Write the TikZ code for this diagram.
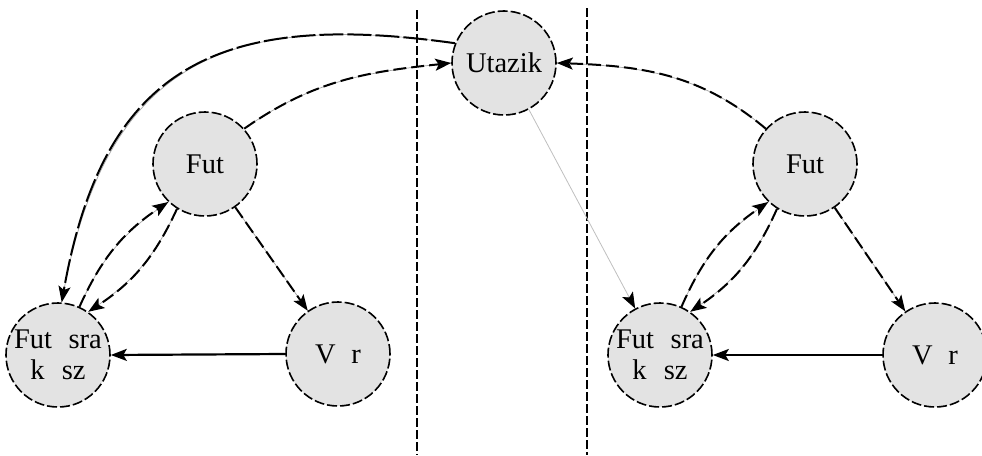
\documentclass[tikz,border=0pt]{standalone}
\usepackage{fontspec}
\setmainfont{Liberation Serif}
\usetikzlibrary{arrows.meta}

\tikzset{
  state/.style={circle, minimum size=104pt, inner sep=0pt, fill=black!11,
    draw=black, line width=1.6pt, dash pattern=on 10pt off 3pt,
    font=\fontsize{28.5}{31}\selectfont, align=center},
  link/.style={draw=black, line width=2pt, dash pattern=on 13pt off 5pt,
    preaction={draw=black!35, solid, line width=0.7pt, -},
    -{Stealth[length=16pt, width=12pt, inset=3.5pt]}},
  solidlink/.style={draw=black, line width=2.2pt,
    -{Stealth[length=16pt, width=12pt, inset=3.5pt]}},
  faintlink/.style={draw=black!25, line width=0.8pt,
    -{Stealth[length=16pt, width=12pt, inset=3.5pt, color=black]}},
  divider/.style={draw=black, dash pattern=on 9pt off 3pt},
}

\begin{document}
\begin{tikzpicture}[x=1pt, y=-1pt]
  \useasboundingbox (0,0) rectangle (982,455);

  % separating lines
  \coordinate (d1t) at (417,10);  \coordinate (d1b) at (417,455);
  \coordinate (d2t) at (587,8);   \coordinate (d2b) at (587,455);
  \draw[divider, line width=1.5pt] (d1t) -- (d1b);
  \draw[divider, line width=2.3pt] (d2t) -- (d2b);

  % states
  \node[state] (ut)  at (504,63)  {Utazik};
  \node[state] (fL)  at (205,164) {Fut};
  \node[state] (fsL) at (58,355)  {Fut\hspace{0.58em}sra\\k\hspace{0.6em}sz};
  \node[state] (vL)  at (338,354) {V\hspace{0.55em}r};
  \node[state] (fR)  at (805,164) {Fut};
  \node[state] (fsR) at (660,355) {Fut\hspace{0.58em}sra\\k\hspace{0.6em}sz};
  \node[state] (vR)  at (935,355) {V\hspace{0.55em}r};

  % left part
  \draw[link, dash pattern=on 24pt off 4pt] (ut.158) to[out=172, in=80, looseness=1.3] (fsL.86);
  \draw[link] (fL.42) to[out=35, in=186] (ut.180);
  \draw[link] (fsL.66) to[bend left=16] (fL.226);
  \draw[link] (fL.238) to[bend left=16] (fsL.55);
  \draw[link] (fL) -- (vL);
  \draw[solidlink] (vL.180) -- (fsL.0);

  % right part
  \draw[link] (fR.138) to[out=140, in=-2] (ut.0);
  \draw[faintlink] (ut) -- (fsR);
  \draw[link] (fsR.66) to[bend left=16] (fR.226);
  \draw[link] (fR.238) to[bend left=16] (fsR.55);
  \draw[link] (fR) -- (vR);
  \draw[solidlink] (vR.180) -- (fsR.0);
\end{tikzpicture}
\end{document}
